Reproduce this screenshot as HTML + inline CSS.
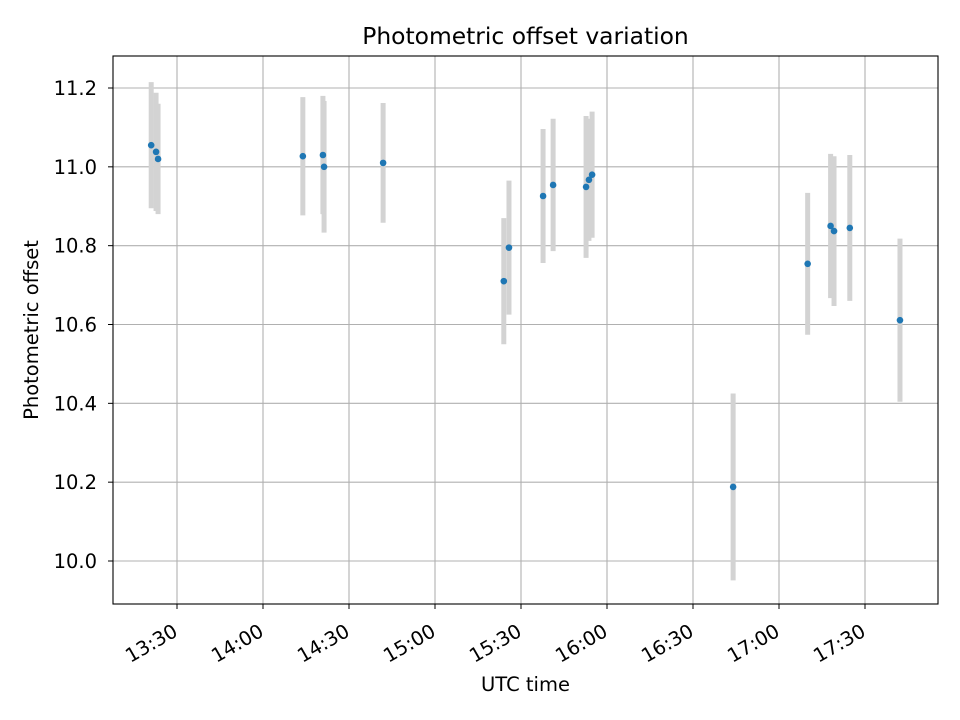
<!DOCTYPE html>
<html><head><meta charset="utf-8"><style>
body{margin:0;background:#fff;}
svg{display:block;font-family:"DejaVu Sans","Liberation Sans",sans-serif;}
</style></head><body>
<svg id="chart" width="960" height="720" viewBox="0 0 960 720"></svg>
<script>
// minutes after 13:30
const times = [-9, -7.3, -6.6, 43.9, 50.9, 51.3, 71.9, 114, 115.8, 127.7, 131.2, 142.7, 143.7, 144.8, 194, 220, 228, 229.2, 234.7, 252.2];
const offsets = [11.055, 11.038, 11.02, 11.027, 11.03, 11.0, 11.01, 10.71, 10.795, 10.926, 10.954, 10.949, 10.967, 10.98, 10.188, 10.754, 10.85, 10.837, 10.845, 10.611];
const errors = [0.16, 0.15, 0.14, 0.15, 0.15, 0.167, 0.152, 0.16, 0.17, 0.17, 0.168, 0.18, 0.155, 0.16, 0.237, 0.18, 0.183, 0.19, 0.185, 0.207];
const yTicks = [10.0, 10.2, 10.4, 10.6, 10.8, 11.0, 11.2];
const xTickMins = [0, 30, 60, 90, 120, 150, 180, 210, 240];
const xTickLabels = ["13:30","14:00","14:30","15:00","15:30","16:00","16:30","17:00","17:30"];

const L=113,R=938,T=56,B=604;
const xs = m => 177 + m*(86/30);
const ys = v => 88 + (11.2 - v)*(473/1.2);
const svg = document.getElementById('chart');
const NS='http://www.w3.org/2000/svg';
function mk(tag, attrs, parent){const e=document.createElementNS(NS,tag);for(const k in attrs)e.setAttribute(k,attrs[k]);(parent||svg).appendChild(e);return e;}

const grid = mk('g',{});


yTicks.forEach(v=>{const y=ys(v);
  const l=mk('line',{x1:L,x2:R,y1:y,y2:y,stroke:'#b0b0b0','stroke-width':1.1},grid);
  
  mk('line',{x1:L-5,x2:L,y1:y,y2:y,stroke:'#000','stroke-width':1},grid);
  const t=mk('text',{x:L-16,y:y+7,'text-anchor':'end','font-size':19.5,fill:'#000'},grid);
  t.textContent=v.toFixed(1);
  
});
xTickMins.forEach((m,i)=>{const x=xs(m);
  const l=mk('line',{x1:x,x2:x,y1:T,y2:B,stroke:'#b0b0b0','stroke-width':1.1},grid);
  
  mk('line',{x1:x,x2:x,y1:B,y2:B+5,stroke:'#000','stroke-width':1},grid);
  const ax=x+2, ay=B+31;
  const t=mk('text',{x:ax,y:ay,'text-anchor':'end','font-size':19.5,fill:'#000',transform:`rotate(-30 ${ax} ${ay})`},grid);
  t.textContent=xTickLabels[i];
  
});

const eb = mk('g',{});

times.forEach((m,i)=>{const x=xs(m);
  const l=mk('line',{x1:x,x2:x,y1:ys(offsets[i]+errors[i]),y2:ys(offsets[i]-errors[i]),stroke:'#d3d3d3','stroke-width':5},eb);
  
});
const pts = mk('g',{});

times.forEach((m,i)=>{
  const c=mk('circle',{cx:xs(m),cy:ys(offsets[i]),r:3.3,fill:'#1f77b4'},pts);
  
});

const frame=mk('rect',{x:L,y:T,width:R-L,height:B-T,fill:'none',stroke:'#000','stroke-width':1.1});

const title=mk('text',{x:(L+R)/2,y:44,'text-anchor':'middle','font-size':23.4,fill:'#000'});
title.textContent='Photometric offset variation';

const xt=mk('text',{x:(L+R)/2,y:691,'text-anchor':'middle','font-size':19.5,fill:'#000'});
xt.textContent='UTC time';

const yt=mk('text',{x:38,y:(T+B)/2,'text-anchor':'middle','font-size':19.5,fill:'#000',transform:`rotate(-90 38 ${(T+B)/2})`});
yt.textContent='Photometric offset';

</script>
</body></html>
